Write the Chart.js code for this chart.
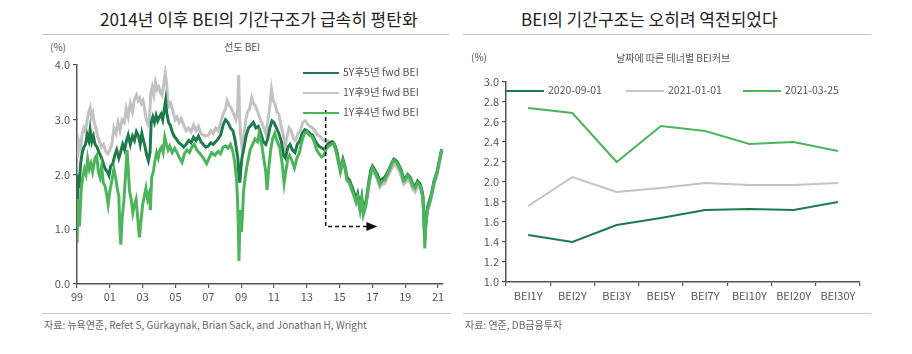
<!DOCTYPE html>
<html>
<head>
<meta charset="utf-8">
<script src="https://cdn.jsdelivr.net/npm/chart.js@4.4.1/dist/chart.umd.min.js"></script>
<style>
  html, body { margin: 0; padding: 0; background: #fff; }
  body { width: 912px; height: 354px; position: relative; overflow: hidden;
         font-family: "Noto Sans CJK KR", "Noto Sans", sans-serif; color: #555; }
  .abs { position: absolute; white-space: nowrap; }
  .title { font-size: 17px; color: #222; top: 8px; line-height: 22px; }
  .rule { position: absolute; height: 1px; background: #c4c4c4; }
  .small { font-size: 10px; line-height: 12px; color: #555; }
  .src { font-size: 10px; line-height: 12px; color: #666; top: 319px; }
  .leg { font-size: 10.5px; line-height: 12px; color: #555; }
  .sw { position: absolute; height: 2px; }
</style>
</head>
<body>
<!-- left panel -->
<div class="abs title" style="left:100px;">2014년 이후 BEI의 기간구조가 급속히 평탄화</div>
<div class="rule" style="left:42px; width:407px; top:34px;"></div>
<div class="abs small" style="left:50px; top:41px;">(%)</div>
<div class="abs small" style="left:224px; top:41px;">선도 BEI</div>
<div class="abs" style="left:0; top:55px; width:456px; height:250px;"><canvas id="leftChart"></canvas></div>
<div class="rule" style="left:42px; width:408px; top:313px;"></div>
<div class="abs src" style="left:44px;">자료: 뉴욕연준, Refet S, Gürkaynak, Brian Sack, and Jonathan H, Wright</div>
<div id="leftLegend"></div>

<!-- right panel -->
<div class="abs title" style="left:521px;">BEI의 기간구조는 오히려 역전되었다</div>
<div class="rule" style="left:463px; width:408px; top:34px;"></div>
<div class="abs small" style="left:471px; top:51px;">(%)</div>
<div class="abs small" style="left:616px; top:52px;">날짜에 따른 테너별 BEI커브</div>
<div class="abs" style="left:456px; top:70px; width:456px; height:235px;"><canvas id="rightChart"></canvas></div>
<div class="rule" style="left:463px; width:408px; top:313px;"></div>
<div class="abs src" style="left:465px;">자료: 연준, DB금융투자</div>
<div id="rightLegend"></div>

<script>
// ---- left chart data: forward BEI, decimal year / value (%) ----
const fwd5y5yYears = [1999.00,1999.05,1999.12,1999.22,1999.32,1999.42,1999.52,1999.62,1999.72,1999.80,1999.90,2000.00,2000.10,2000.22,2000.35,2000.50,2000.60,2000.72,2000.85,2000.95,2001.05,2001.18,2001.30,2001.42,2001.55,2001.65,2001.78,2001.90,2002.00,2002.12,2002.25,2002.38,2002.50,2002.62,2002.75,2002.85,2002.95,2003.05,2003.15,2003.25,2003.35,2003.45,2003.52,2003.62,2003.72,2003.82,2003.92,2004.02,2004.12,2004.22,2004.32,2004.40,2004.48,2004.58,2004.68,2004.80,2004.92,2005.05,2005.20,2005.35,2005.50,2005.65,2005.80,2005.95,2006.10,2006.25,2006.40,2006.55,2006.70,2006.85,2007.00,2007.15,2007.30,2007.45,2007.60,2007.75,2007.90,2008.05,2008.20,2008.35,2008.50,2008.62,2008.72,2008.80,2008.86,2008.92,2008.98,2009.05,2009.15,2009.30,2009.45,2009.60,2009.75,2009.90,2010.05,2010.20,2010.35,2010.50,2010.62,2010.75,2010.88,2011.00,2011.15,2011.30,2011.45,2011.58,2011.70,2011.85,2011.98,2012.12,2012.28,2012.42,2012.58,2012.72,2012.88,2013.02,2013.18,2013.35,2013.50,2013.65,2013.80,2013.95,2014.10,2014.25,2014.40,2014.55,2014.70,2014.85,2014.95,2015.05,2015.20,2015.35,2015.45,2015.60,2015.75,2015.90,2016.00,2016.10,2016.25,2016.35,2016.45,2016.60,2016.70,2016.80,2016.90,2017.00,2017.15,2017.30,2017.45,2017.60,2017.75,2017.90,2018.05,2018.20,2018.30,2018.45,2018.60,2018.75,2018.90,2019.00,2019.15,2019.30,2019.45,2019.60,2019.75,2019.90,2020.00,2020.08,2020.14,2020.19,2020.25,2020.35,2020.45,2020.55,2020.65,2020.75,2020.85,2020.95,2021.05,2021.15,2021.22];
const fwd5y5yValues = [1.45,2.00,1.75,2.20,2.40,2.50,2.55,2.72,2.62,2.82,2.60,2.70,2.55,2.50,2.40,2.30,2.20,2.10,2.05,1.98,2.15,2.20,2.35,2.45,2.30,2.40,2.55,2.45,2.60,2.72,2.55,2.70,2.62,2.78,2.70,2.55,2.75,2.62,2.50,2.35,2.25,2.40,2.95,3.05,2.95,3.08,2.98,3.05,3.10,3.00,3.20,3.35,3.10,2.95,2.90,2.78,2.70,2.65,2.58,2.55,2.50,2.55,2.62,2.58,2.68,2.62,2.70,2.60,2.55,2.50,2.52,2.58,2.55,2.60,2.65,2.72,2.90,3.00,2.95,2.85,2.80,2.65,2.45,2.30,2.00,1.85,2.10,2.30,2.45,2.70,2.85,2.90,2.95,2.85,2.88,2.75,2.60,2.55,2.65,2.85,2.98,2.95,2.85,2.75,2.60,2.35,2.30,2.50,2.55,2.45,2.40,2.55,2.62,2.75,2.82,2.80,2.75,2.72,2.62,2.55,2.50,2.48,2.45,2.55,2.58,2.60,2.55,2.40,2.22,2.10,2.28,2.12,1.95,1.90,1.78,1.65,1.55,1.65,1.40,1.58,1.32,1.50,1.70,1.90,2.08,2.15,2.08,2.00,1.88,1.92,1.95,2.03,2.12,2.22,2.28,2.25,2.18,2.08,1.92,1.93,2.00,1.95,1.83,1.78,1.88,1.83,1.73,1.60,1.20,0.80,1.12,1.40,1.50,1.60,1.72,1.88,1.97,2.07,2.22,2.36,2.46];

const fwd1y9yYears = [1999.00,1999.05,1999.12,1999.22,1999.32,1999.42,1999.52,1999.62,1999.72,1999.80,1999.88,1999.96,2000.05,2000.15,2000.25,2000.38,2000.50,2000.62,2000.75,2000.88,2001.00,2001.12,2001.25,2001.38,2001.50,2001.62,2001.75,2001.88,2002.00,2002.12,2002.25,2002.38,2002.50,2002.62,2002.72,2002.82,2002.92,2003.02,2003.12,2003.22,2003.32,2003.42,2003.50,2003.58,2003.68,2003.78,2003.88,2003.98,2004.08,2004.18,2004.28,2004.38,2004.45,2004.52,2004.62,2004.72,2004.85,2004.98,2005.10,2005.22,2005.35,2005.50,2005.65,2005.80,2005.95,2006.10,2006.25,2006.40,2006.55,2006.70,2006.85,2007.00,2007.15,2007.30,2007.45,2007.60,2007.75,2007.90,2008.05,2008.15,2008.30,2008.42,2008.55,2008.68,2008.78,2008.85,2008.90,2008.96,2009.05,2009.15,2009.28,2009.40,2009.52,2009.65,2009.75,2009.88,2010.00,2010.12,2010.25,2010.38,2010.50,2010.62,2010.75,2010.85,2010.95,2011.05,2011.18,2011.30,2011.42,2011.55,2011.68,2011.80,2011.92,2012.05,2012.18,2012.32,2012.45,2012.60,2012.75,2012.90,2013.05,2013.20,2013.35,2013.50,2013.65,2013.80,2013.95,2014.10,2014.25,2014.40,2014.55,2014.70,2014.85,2014.95,2015.05,2015.20,2015.35,2015.45,2015.60,2015.75,2015.90,2016.00,2016.10,2016.25,2016.35,2016.45,2016.60,2016.70,2016.80,2016.90,2017.00,2017.15,2017.30,2017.45,2017.60,2017.75,2017.90,2018.05,2018.20,2018.30,2018.45,2018.60,2018.75,2018.90,2019.00,2019.15,2019.30,2019.45,2019.60,2019.75,2019.90,2020.00,2020.08,2020.14,2020.19,2020.25,2020.35,2020.45,2020.55,2020.65,2020.75,2020.85,2020.95,2021.05,2021.15,2021.22];
const fwd1y9yValues = [2.50,2.30,2.60,2.50,2.75,2.85,2.78,3.00,3.15,3.22,3.05,3.12,2.95,2.85,2.70,2.60,2.50,2.55,2.42,2.38,2.45,2.55,2.85,2.75,2.95,2.80,3.00,2.95,3.20,3.05,3.30,3.15,3.38,3.45,3.35,3.40,3.30,3.35,3.20,3.00,2.92,3.05,3.50,3.60,3.45,3.68,3.55,3.60,3.50,3.45,3.65,3.85,3.70,3.40,3.25,3.30,3.15,3.00,3.05,2.95,3.02,2.90,2.80,2.85,2.78,2.90,2.80,2.88,2.75,2.72,2.70,2.72,2.80,2.75,2.85,2.80,2.95,3.10,3.20,3.35,3.25,3.20,3.10,3.00,3.15,3.82,3.10,2.75,2.50,2.65,3.00,3.15,3.20,3.40,3.30,3.25,3.15,3.05,2.95,2.85,2.75,2.95,3.25,3.55,3.35,3.30,3.15,3.10,2.90,2.75,2.50,2.70,2.85,2.80,2.65,2.62,2.75,2.80,2.95,2.98,2.92,2.88,2.85,2.80,2.72,2.70,2.65,2.60,2.62,2.60,2.58,2.52,2.36,2.18,2.05,2.22,2.07,1.88,1.83,1.70,1.58,1.48,1.58,1.33,1.52,1.26,1.42,1.62,1.82,1.98,2.06,2.00,1.90,1.76,1.82,1.84,1.94,2.03,2.13,2.18,2.15,2.08,1.98,1.82,1.84,1.90,1.85,1.73,1.68,1.78,1.75,1.66,1.52,1.18,0.85,1.10,1.33,1.42,1.52,1.66,1.80,1.90,2.00,2.15,2.30,2.40];

const fwd1y4yYears = [1999.00,1999.08,1999.15,1999.25,1999.35,1999.45,1999.55,1999.65,1999.75,1999.85,1999.95,2000.10,2000.20,2000.30,2000.40,2000.50,2000.60,2000.70,2000.80,2000.90,2001.00,2001.10,2001.25,2001.35,2001.45,2001.55,2001.62,2001.67,2001.75,2001.85,2001.95,2002.05,2002.12,2002.20,2002.30,2002.40,2002.50,2002.60,2002.70,2002.80,2002.90,2003.00,2003.10,2003.20,2003.30,2003.40,2003.47,2003.55,2003.65,2003.75,2003.85,2003.95,2004.05,2004.15,2004.25,2004.35,2004.45,2004.55,2004.65,2004.80,2004.95,2005.10,2005.25,2005.40,2005.55,2005.70,2005.85,2006.00,2006.15,2006.30,2006.50,2006.70,2006.90,2007.05,2007.20,2007.40,2007.60,2007.75,2007.90,2008.05,2008.20,2008.35,2008.50,2008.62,2008.72,2008.78,2008.84,2008.87,2008.92,2008.96,2009.02,2009.08,2009.15,2009.25,2009.35,2009.45,2009.55,2009.70,2009.85,2010.00,2010.10,2010.25,2010.40,2010.50,2010.58,2010.68,2010.80,2010.92,2011.05,2011.20,2011.35,2011.50,2011.62,2011.72,2011.85,2011.95,2012.10,2012.25,2012.40,2012.55,2012.70,2012.85,2013.00,2013.15,2013.30,2013.45,2013.60,2013.75,2013.90,2014.05,2014.20,2014.35,2014.50,2014.65,2014.80,2014.95,2015.05,2015.20,2015.35,2015.45,2015.60,2015.75,2015.90,2016.00,2016.10,2016.25,2016.35,2016.45,2016.60,2016.70,2016.80,2016.90,2017.00,2017.15,2017.30,2017.45,2017.60,2017.75,2017.90,2018.05,2018.20,2018.30,2018.45,2018.60,2018.75,2018.90,2019.00,2019.15,2019.30,2019.45,2019.60,2019.75,2019.90,2020.00,2020.08,2020.14,2020.19,2020.25,2020.35,2020.45,2020.55,2020.65,2020.75,2020.85,2020.95,2021.05,2021.15,2021.22];
const fwd1y4yValues = [0.75,1.55,1.05,1.70,1.95,2.10,2.00,2.28,2.10,2.20,2.05,2.30,2.35,2.05,1.95,2.15,1.85,1.80,1.65,1.45,1.70,1.85,2.10,1.95,1.75,1.60,0.95,0.72,1.20,1.50,1.95,2.45,2.10,1.70,1.55,1.30,1.45,1.55,1.20,0.85,1.15,1.45,1.60,1.75,1.55,1.65,1.35,1.95,2.05,2.25,2.40,2.30,2.45,2.50,2.40,2.68,2.55,2.45,2.52,2.40,2.48,2.40,2.30,2.22,2.38,2.45,2.40,2.50,2.55,2.45,2.38,2.30,2.20,2.30,2.40,2.35,2.42,2.38,2.50,2.52,2.48,2.55,2.42,2.20,1.90,1.55,0.90,0.42,1.10,1.35,0.95,1.25,1.70,1.95,2.15,2.30,2.45,2.55,2.65,2.60,2.75,2.55,2.25,2.05,1.72,2.10,2.45,2.65,2.75,2.60,2.50,2.20,1.84,2.05,2.30,2.35,2.25,2.12,2.30,2.40,2.60,2.75,2.78,2.72,2.70,2.60,2.45,2.38,2.32,2.35,2.48,2.52,2.55,2.57,2.40,2.20,2.05,2.25,2.10,1.90,1.85,1.72,1.60,1.50,1.60,1.35,1.55,1.28,1.45,1.65,1.85,2.02,2.12,2.05,1.95,1.82,1.88,1.90,2.00,2.10,2.20,2.26,2.22,2.15,2.05,1.88,1.90,1.98,1.92,1.80,1.75,1.85,1.80,1.70,1.55,1.10,0.65,1.05,1.35,1.45,1.55,1.70,1.85,1.95,2.05,2.20,2.35,2.45];

const leftXTicks = [1999, 2001, 2003, 2005, 2007, 2009, 2011, 2013, 2015, 2017, 2019, 2021];
const leftYTicks = [0, 1, 2, 3, 4];
// dashed arrow drawn on the left chart (decimal year, %)
const arrowPath = [[2014.15, 3.18], [2014.15, 1.05], [2017.3, 1.05]];

// ---- right chart data: BEI curve by tenor ----
const tenors = ['BEI1Y', 'BEI2Y', 'BEI3Y', 'BEI5Y', 'BEI7Y', 'BEI10Y', 'BEI20Y', 'BEI30Y'];
const curve20200901 = [1.47, 1.40, 1.57, 1.64, 1.72, 1.73, 1.72, 1.80];
const curve20210101 = [1.76, 2.05, 1.90, 1.94, 1.99, 1.97, 1.97, 1.99];
const curve20210325 = [2.74, 2.69, 2.20, 2.56, 2.51, 2.38, 2.40, 2.31];

const DARK = '#1f7a4b';
const GRAY = '#c2c2c2';
const GREEN = '#4cb55c';
const AXIS = '#555';
const FONT = '"Noto Sans CJK KR", "Liberation Sans", sans-serif';

function toPoints(xs, ys) {
    return xs.map((x, i) => ({ x: x, y: ys[i] }));
}

// dashed arrow plugin for the left chart
const arrowPlugin = {
    id: 'arrowPlugin',
    afterDatasetsDraw(chart) {
        const { ctx, scales } = chart;
        const pts = arrowPath.map(p => [scales.x.getPixelForValue(p[0]), scales.y.getPixelForValue(p[1])]);
        ctx.save();
        ctx.strokeStyle = '#111';
        ctx.lineWidth = 1.5;
        ctx.setLineDash([4, 3]);
        ctx.beginPath();
        ctx.moveTo(pts[0][0], pts[0][1]);
        for (let i = 1; i < pts.length; i++) ctx.lineTo(pts[i][0] - (i === pts.length - 1 ? 8 : 0), pts[i][1]);
        ctx.stroke();
        ctx.setLineDash([]);
        const end = pts[pts.length - 1];
        ctx.fillStyle = '#111';
        ctx.beginPath();
        ctx.moveTo(end[0], end[1]);
        ctx.lineTo(end[0] - 11, end[1] - 4.5);
        ctx.lineTo(end[0] - 11, end[1] + 4.5);
        ctx.closePath();
        ctx.fill();
        ctx.restore();
    }
};

const leftChart = new Chart(document.getElementById('leftChart'), {
    type: 'line',
    data: {
        datasets: [
            { label: '5Y후5년 fwd BEI', data: toPoints(fwd5y5yYears, fwd5y5yValues), borderColor: DARK, order: 2 },
            { label: '1Y후9년 fwd BEI', data: toPoints(fwd1y9yYears, fwd1y9yValues), borderColor: GRAY, order: 3 },
            { label: '1Y후4년 fwd BEI', data: toPoints(fwd1y4yYears, fwd1y4yValues), borderColor: GREEN, order: 1 }
        ]
    },
    options: {
        responsive: true,
        maintainAspectRatio: false,
        animation: false,
        layout: { padding: { top: 10, right: 13, left: 0, bottom: 0 } },
        elements: { point: { radius: 0 }, line: { borderWidth: 3, tension: 0 } },
        plugins: { legend: { display: false }, tooltip: { enabled: false } },
        scales: {
            x: {
                type: 'linear', min: 1999, max: 2021.3,
                afterFit: s => { s.height = 21; },
                afterBuildTicks: s => { s.ticks = leftXTicks.map(v => ({ value: v })); },
                ticks: { autoSkip: false, maxRotation: 0, color: AXIS, padding: 2,
                         font: { family: FONT, size: 11 },
                         callback: v => String(v % 100).padStart(2, '0') },
                grid: { drawOnChartArea: false, tickLength: 4, color: AXIS, lineWidth: 1.2 },
                border: { color: AXIS, width: 1.5 }
            },
            y: {
                min: 0, max: 4,
                afterFit: s => { s.width = 77; },
                afterBuildTicks: s => { s.ticks = leftYTicks.map(v => ({ value: v })); },
                ticks: { color: AXIS, padding: 3, font: { family: FONT, size: 11 },
                         callback: v => v.toFixed(1) },
                grid: { drawOnChartArea: false, tickLength: 4, color: AXIS, lineWidth: 1.2 },
                border: { color: AXIS, width: 1.5 }
            }
        }
    },
    plugins: [arrowPlugin]
});

const rightChart = new Chart(document.getElementById('rightChart'), {
    type: 'line',
    data: {
        labels: tenors,
        datasets: [
            { label: '2020-09-01', data: curve20200901, borderColor: DARK },
            { label: '2021-01-01', data: curve20210101, borderColor: GRAY },
            { label: '2021-03-25', data: curve20210325, borderColor: GREEN }
        ]
    },
    options: {
        responsive: true,
        maintainAspectRatio: false,
        animation: false,
        layout: { padding: { top: 12, right: 52, left: 0, bottom: 0 } },
        elements: { point: { radius: 0 }, line: { borderWidth: 2, tension: 0 } },
        plugins: { legend: { display: false }, tooltip: { enabled: false } },
        scales: {
            x: {
                offset: true,
                afterFit: s => { s.height = 23; },
                ticks: { color: AXIS, padding: 3, maxRotation: 0, font: { family: FONT, size: 11 } },
                grid: { offset: true, drawOnChartArea: false, tickLength: 4, color: AXIS, lineWidth: 1.2 },
                border: { color: AXIS, width: 1.5 }
            },
            y: {
                min: 1.0, max: 3.0,
                afterFit: s => { s.width = 50; },
                ticks: { stepSize: 0.2, color: AXIS, padding: 3, font: { family: FONT, size: 11 },
                         callback: v => v.toFixed(1) },
                grid: { drawOnChartArea: false, tickLength: 4, color: AXIS, lineWidth: 1.2 },
                border: { color: AXIS, width: 1.5 }
            }
        }
    }
});

// HTML legends
function addLegendItem(parentId, color, label, lineLeft, lineWidth, top) {
    const parent = document.getElementById(parentId);
    const sw = document.createElement('div');
    sw.className = 'sw';
    sw.style.left = lineLeft + 'px';
    sw.style.width = lineWidth + 'px';
    sw.style.top = (top - 1) + 'px';
    sw.style.background = color;
    parent.appendChild(sw);
    const txt = document.createElement('div');
    txt.className = 'abs leg';
    txt.style.left = (lineLeft + lineWidth + 4) + 'px';
    txt.style.top = (top - 7) + 'px';
    txt.textContent = label;
    parent.appendChild(txt);
}

const leftColors = [DARK, GRAY, GREEN];
leftChart.data.datasets.forEach((ds, i) => {
    addLegendItem('leftLegend', leftColors[i], ds.label, 303, 36, 73 + i * 20);
});

const rightLegendLeft = [506, 626, 743];
rightChart.data.datasets.forEach((ds, i) => {
    addLegendItem('rightLegend', ds.borderColor, ds.label, rightLegendLeft[i], 38, 91);
});
</script>
</body>
</html>
